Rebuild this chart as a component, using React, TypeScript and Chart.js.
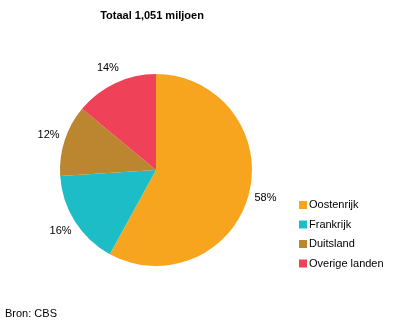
import React, { useEffect, useRef } from "react";
import { Chart, registerables } from "chart.js";

Chart.register(...registerables);

const categories = ["Oostenrijk", "Frankrijk", "Duitsland", "Overige landen"];
const values = [58, 16, 12, 14];
const colors = ["#F7A51E", "#1DBDC8", "#BC8530", "#EF4157"];
const titleText = "Totaal 1,051 miljoen";
const sourceText = "Bron: CBS";

const FONT = "'Liberation Sans', Arial, sans-serif";

const overlayPlugin = {
  id: "overlay",
  afterDraw(chart: any) {
    const ctx = chart.ctx as CanvasRenderingContext2D;
    ctx.save();
    // title
    ctx.fillStyle = "#000";
    ctx.font = `bold 11px ${FONT}`;
    ctx.textAlign = "center";
    ctx.textBaseline = "middle";
    ctx.fillText(titleText, 152, 16);

    // percentage labels
    ctx.font = `11px ${FONT}`;
    const meta = chart.getDatasetMeta(0);
    const total = values.reduce((a, b) => a + b, 0);
    meta.data.forEach((arc: any, i: number) => {
      const mid = (arc.startAngle + arc.endAngle) / 2;
      const r = arc.outerRadius + 17;
      const x = arc.x + Math.cos(mid) * r;
      const y = arc.y + Math.sin(mid) * r;
      ctx.fillText(Math.round((values[i] / total) * 100) + "%", x, y);
    });

    // legend
    ctx.textAlign = "left";
    categories.forEach((c, i) => {
      const y = 205 + i * 19.5;
      ctx.fillStyle = colors[i];
      ctx.fillRect(299, y - 4, 8, 8);
      ctx.fillStyle = "#000";
      ctx.fillText(c, 309, y);
    });

    // source
    ctx.fillText(sourceText, 5, 314);
    ctx.restore();
  },
};

export default function App() {
  const ref = useRef<HTMLCanvasElement | null>(null);
  useEffect(() => {
    if (!ref.current) return;
    const chart = new Chart(ref.current, {
      type: "pie",
      data: {
        labels: categories,
        datasets: [
          {
            data: values,
            backgroundColor: colors,
            borderWidth: 0,
          },
        ],
      },
      options: {
        animation: false,
        responsive: false,
        layout: { padding: { left: 60, right: 144, top: 74, bottom: 58 } },
        plugins: {
          legend: { display: false },
          tooltip: { enabled: false },
          title: { display: false },
        },
      },
      plugins: [overlayPlugin],
    });
    return () => chart.destroy();
  }, []);
  return (
    <div style={{ position: "absolute", left: 0, top: 0, width: 396, height: 324, background: "#fff" }}>
      <canvas ref={ref} width={396} height={324} style={{ width: 396, height: 324 }} />
    </div>
  );
}
